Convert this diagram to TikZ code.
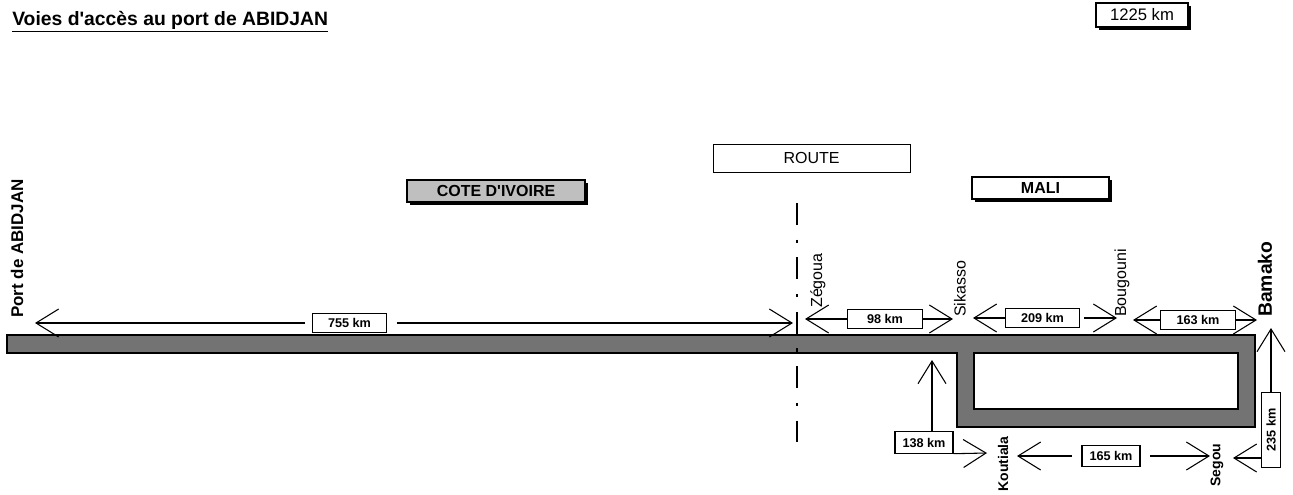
\documentclass[tikz,border=0pt]{standalone}
\usepackage{fontspec}
\setmainfont{Liberation Sans}
\usetikzlibrary{arrows.meta,shadows}

\tikzset{
  road/.style={draw=black, line width=1.4pt, fill=black!55, even odd rule},
  pays/.style={draw, line width=0.8pt, inner sep=0pt, font=\bfseries\fontsize{12}{14}\selectfont,
    drop shadow={shadow xshift=2.2pt, shadow yshift=-2.2pt, fill=black, opacity=1}},
  kmbox/.style={draw, line width=0.8pt, fill=white, inner sep=0pt, font=\bfseries\fontsize{9.5}{11}\selectfont},
  kmlong/.style={kmbox, minimum width=56pt, minimum height=14.5pt},
  kmshort/.style={kmbox, minimum width=43.5pt, minimum height=16pt},
  city/.style={rotate=90, inner sep=0pt, font=\fontsize{12}{14}\selectfont},
  bigcity/.style={rotate=90, inner sep=0pt, font=\bfseries\fontsize{14.5}{16}\selectfont},
  dist/.style={line width=0.8pt, -{Straight Barb[length=17pt,width=21pt,line width=0.8pt]}},
}

\begin{document}
\begin{tikzpicture}[x=0.75pt, y=-0.75pt]
  \useasboundingbox (0,0) rectangle (1293,494);

  \node[anchor=base west, inner sep=0pt, font=\bfseries\fontsize{14.5}{17}\selectfont] (titre) at (12,25)
    {\underline{Voies d\textquotesingle accès au port de ABIDJAN}};
  \node[pays, fill=white, line width=1pt, font=\fontsize{12.5}{14}\selectfont,
    minimum width=69pt, minimum height=18pt] (total) at (1142,15) {1225 km};

  \node[draw, line width=0.6pt, inner sep=0pt, font=\fontsize{12}{14}\selectfont,
    minimum width=147.75pt, minimum height=21pt] (route) at (811.5,158) {ROUTE};
  \node[pays, fill=black!25, minimum width=133.5pt, minimum height=16.5pt] (ci) at (496,191) {COTE D\textquotesingle IVOIRE};
  \node[pays, fill=white, minimum width=102.75pt, minimum height=16.5pt] (mali) at (1040.5,188) {MALI};

  % la route et la boucle par Segou
  \draw[road] (7,335) -- (1255,335) -- (1255,427) -- (957,427) -- (957,353) -- (7,353) -- cycle
    (974,353) rectangle (1238,409);
  \draw[line width=2.2pt, dash pattern=on 16.5pt off 11pt on 2.3pt off 11pt] (797,203) -- (797,442);

  \node[bigcity, font=\bfseries\fontsize{12.7}{15}\selectfont, anchor=west] (abidjan) at (17,318) {Port de ABIDJAN};
  \node[city, anchor=west] (zegoua) at (818,308) {Zégoua};
  \node[city, anchor=west] (sikasso) at (960,317) {Sikasso};
  \node[city, anchor=west] (bougouni) at (1122,317) {Bougouni};
  \node[bigcity, anchor=west] (bamako) at (1265,317) {Bamako};
  \node[city, font=\bfseries\fontsize{10.5}{12}\selectfont] (koutiala) at (1003,464) {Koutiala};
  \node[city, font=\bfseries\fontsize{10.5}{12}\selectfont] (segou) at (1217,465) {Segou};

  % distances
  \coordinate (pA) at (35,323);
  \coordinate (zA) at (793,323);
  \node[kmlong] (d755) at (349.5,323) {755 km};
  \draw[dist, shorten <=5pt] (d755) -- (pA);
  \draw[dist, shorten <=7pt] (d755) -- (zA);

  \coordinate (zB) at (805,319);
  \coordinate (sB) at (953,319);
  \node[kmlong] (d98) at (885,319) {98 km};
  \draw[dist] (d98) -- (zB);
  \draw[dist] (d98) -- (sB);

  \coordinate (sC) at (973,318);
  \coordinate (bC) at (1117,318);
  \node[kmlong] (d209) at (1042.5,318) {209 km};
  \draw[dist] (d209) -- (sC);
  \draw[dist, shorten <=3pt] (d209) -- (bC);

  \coordinate (bD) at (1133,320);
  \coordinate (mD) at (1257,320);
  \node[kmlong] (d163) at (1198,320) {163 km};
  \draw[dist] (d163) -- (bD);
  \draw[dist] (d163) -- (mD);

  \coordinate (mE) at (1271,328);
  \coordinate (gE) at (1233,458);
  \node[kmlong, rotate=90] (d235) at (1271,430) {235 km};
  \draw[dist] (d235) -- (mE);
  \draw[dist] (d235.north |- gE) -- (gE);

  \coordinate (kF) at (1017,456);
  \coordinate (gF) at (1210,456);
  \node[kmshort] (d165) at (1111,456) {165 km};
  \draw[dist, shorten <=7pt] (d165) -- (kF);
  \draw[dist, shorten <=7pt] (d165) -- (gF);

  \coordinate (sG) at (932,360);
  \coordinate (kG) at (987,453);
  \node[kmshort] (d138) at (924,442.5) {138 km};
  \draw[dist] (d138.north -| sG) -- (sG);
  \draw[dist] (d138.south east) -- (kG);
\end{tikzpicture}
\end{document}
